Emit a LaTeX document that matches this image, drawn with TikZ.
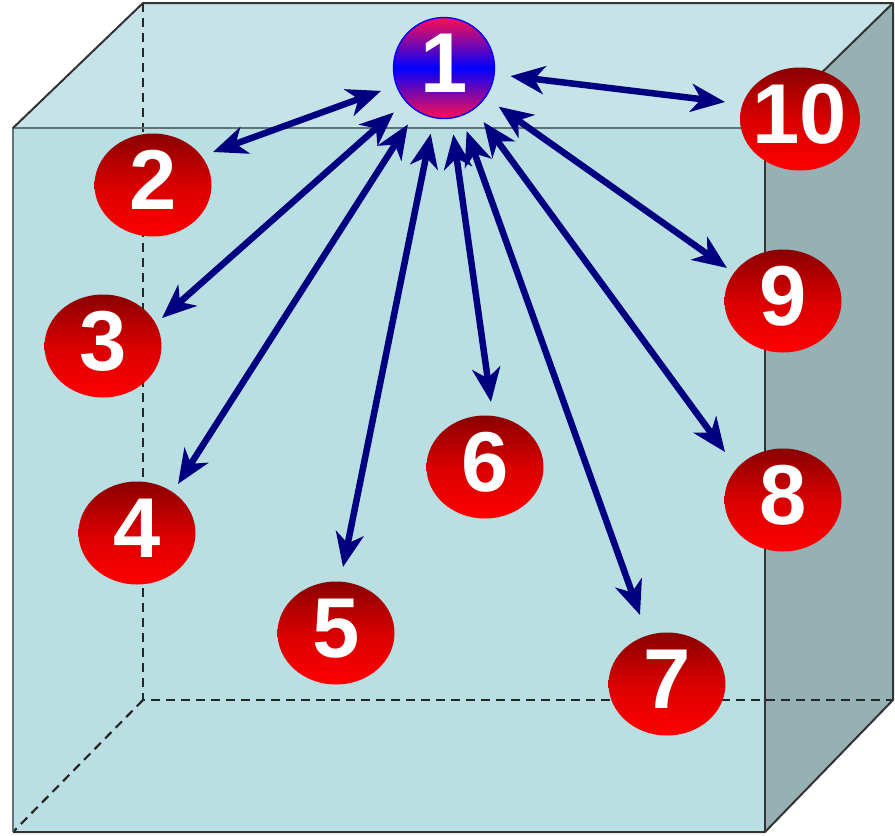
\documentclass[tikz,border=0pt]{standalone}
\usepackage{fontspec}
\setmainfont{Liberation Sans}
\usetikzlibrary{arrows.meta,calc,shapes.geometric}
\definecolor{topf}{HTML}{C6E3E7}
\definecolor{frontf}{HTML}{BADFE3}
\definecolor{sidef}{HTML}{95B1B4}
\definecolor{navyc}{HTML}{000080}
\definecolor{darkred}{HTML}{8A0000}
\definecolor{pinkred}{HTML}{FF0F4F}
\definecolor{edgegray}{HTML}{5E7475}
\begin{document}
\begin{tikzpicture}[x=1pt,y=-1pt,
  edge/.style={draw=black!80, line width=2pt, line join=round},
  softedge/.style={draw=edgegray, line width=2.4pt},
  hidden/.style={draw=black!85, line width=2.2pt, dash pattern=on 9pt off 6pt},
  arr/.style={draw=navyc, line width=6.5pt,
    {Stealth[length=34pt,width=28pt,inset=10pt]}-{Stealth[length=34pt,width=28pt,inset=10pt]}},
  ball/.style={ellipse, minimum width=117pt, minimum height=103pt, inner sep=0pt,
    top color=darkred, bottom color=red, middle color=red!85!black, text=white, text depth=10pt,
    font=\fontsize{85}{85}\selectfont\bfseries},
  hub/.style={circle, minimum size=101pt, inner sep=0pt, draw=blue, line width=1.4pt,
    top color=pinkred, bottom color=pinkred, middle color=blue, text=white, text depth=10pt,
    font=\fontsize{85}{85}\selectfont\bfseries}
]
\useasboundingbox (0,0) rectangle (895,836);
% faces
\path[fill=frontf] (13,128) rectangle (765,832);
\path[fill=topf] (13,128) -- (143,3) -- (893,3) -- (765,128) -- cycle;
\path[fill=sidef] (765,128) -- (893,3) -- (893,700) -- (765,832) -- cycle;
% hidden edges
\draw[hidden] (143,3) -- (143,700) -- (893,700);
\draw[hidden] (143,700) -- (13,832);
% visible edges
\draw[softedge] (13,832) -- (13,128) -- (765,128);
\draw[edge] (13,128) -- (143,3) -- (893,3) -- (893,700) -- (765,832) -- (13,832);
\draw[edge] (765,128) -- (893,3);
\draw[edge] (765,128) -- (765,832);
% nodes
\node[hub]  (n1)  at (444,68)  {\makebox[0pt]{1}};
\node[ball] (n2)  at (153,185) {\makebox[0pt]{2}};
\node[ball] (n3)  at (103,346) {\makebox[0pt]{3}};
\node[ball] (n4)  at (137,533) {\makebox[0pt]{4}};
\node[ball] (n5)  at (336,633) {\makebox[0pt]{5}};
\node[ball] (n6)  at (485,467) {\makebox[0pt]{6}};
\node[ball] (n7)  at (667,684) {\makebox[0pt]{7}};
\node[ball] (n8)  at (783,500) {\makebox[0pt]{8}};
\node[ball] (n9)  at (783,301) {\makebox[0pt]{9}};
\node[ball, minimum width=120pt] (n10) at (800,119) {\makebox[0pt]{10}};
% arrow tips near the outer nodes
\coordinate (t2)  at (213,152);
\coordinate (t3)  at (162,318);
\coordinate (t4)  at (178,484);
\coordinate (t5)  at (343,567);
\coordinate (t6)  at (491,402);
\coordinate (t7)  at (640,615);
\coordinate (t8)  at (725,452);
\coordinate (t9)  at (727,268);
\coordinate (t10) at (725,102);
\foreach \i in {2,...,10}{
  \draw[arr] ($(n1.center)!67pt!(t\i)$) -- (t\i);
}
\end{tikzpicture}
\end{document}
